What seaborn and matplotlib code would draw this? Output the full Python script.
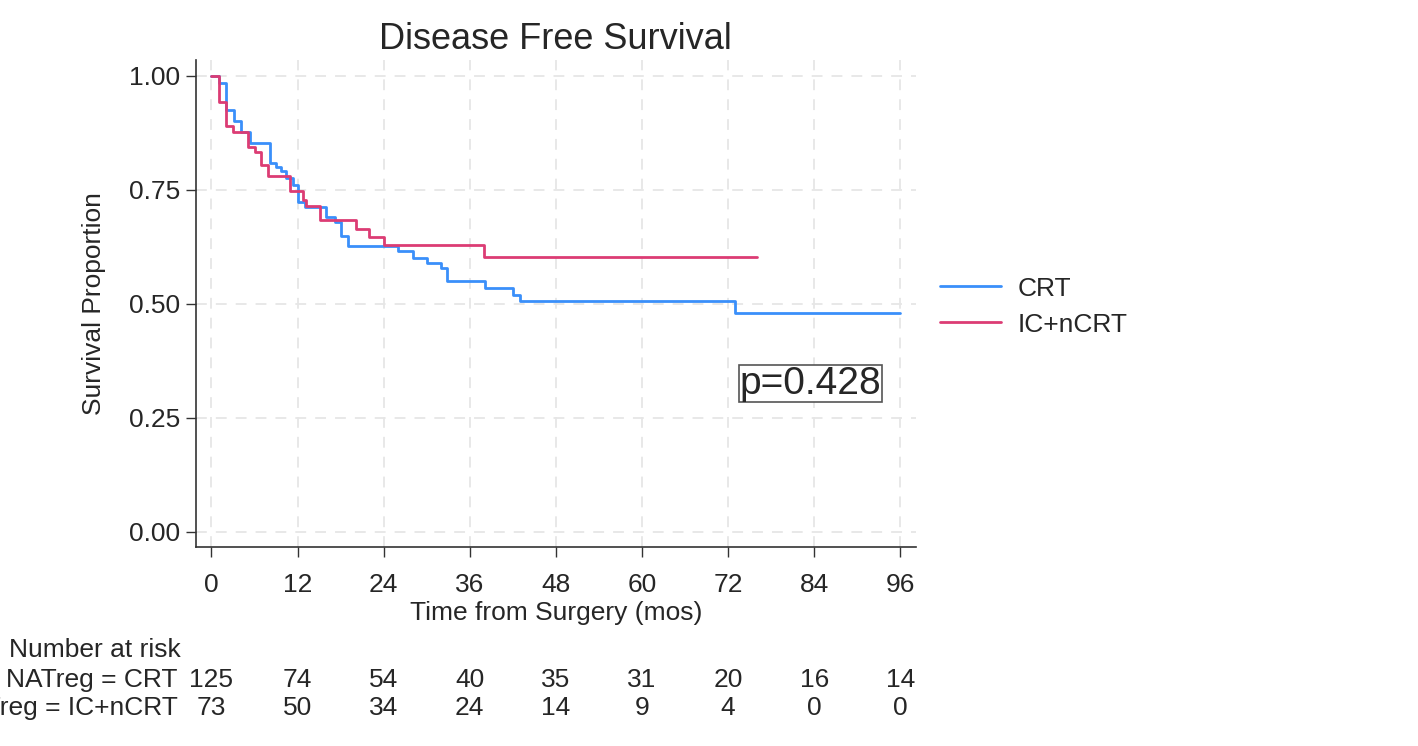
import numpy as np
import pandas as pd
import matplotlib
matplotlib.use("Agg")
import matplotlib.pyplot as plt
import matplotlib.transforms as mtransforms
import seaborn as sns

# Kaplan-Meier step points
crt_time = [0, 1.0, 2.0, 3.2, 4.1, 5.4, 8.1, 9.0, 9.7, 10.4, 11.3, 12.0, 13.0,
            16.0, 17.2, 18.1, 19.0, 26.0, 28.1, 30.0, 32.0, 32.8, 38.1, 42.0,
            43.0, 73.0, 96.0]
crt_surv = [1.0, 0.984, 0.925, 0.90, 0.876, 0.852, 0.808, 0.80, 0.79, 0.776,
            0.761, 0.724, 0.713, 0.69, 0.68, 0.648, 0.626, 0.615, 0.60, 0.589,
            0.578, 0.549, 0.534, 0.52, 0.505, 0.48, 0.48]

ic_time = [0, 1.0, 2.0, 3.0, 5.1, 6.0, 6.9, 7.9, 10.9, 12.7, 13.2, 15.1, 20.1,
           22.0, 24.1, 38.0, 76.0]
ic_surv = [1.0, 0.942, 0.889, 0.876, 0.843, 0.832, 0.805, 0.779, 0.746, 0.728,
           0.715, 0.683, 0.664, 0.646, 0.628, 0.602, 0.602]

groups = ["CRT", "IC+nCRT"]
risk_times = [0, 12, 24, 36, 48, 60, 72, 84, 96]
risk_crt = [125, 74, 54, 40, 35, 31, 20, 16, 14]
risk_ic = [73, 50, 34, 24, 14, 9, 4, 0, 0]
risk_labels = ["NATreg = CRT", "NATreg = IC+nCRT"]
p_text = "p=0.428"

colors = {"CRT": "#3a8ffa", "IC+nCRT": "#dc3c74"}

df = pd.concat([
    pd.DataFrame({"time": crt_time, "surv": crt_surv, "group": "CRT"}),
    pd.DataFrame({"time": ic_time, "surv": ic_surv, "group": "IC+nCRT"}),
])

sns.set_style("white")
plt.rcParams['font.family'] = ['Liberation Sans', 'DejaVu Sans']

fs = 19

fig = plt.figure(figsize=(14.18, 7.46), dpi=100)
ax = fig.add_axes([0.138, 0.267, 0.508, 0.653])

sns.lineplot(data=df, x="time", y="surv", hue="group", hue_order=groups,
             palette=colors, drawstyle="steps-post", estimator=None,
             linewidth=2.0, ax=ax)

ax.set_xlim(-2.2, 98.2)
ax.set_ylim(-0.033, 1.035)
ax.set_xticks(risk_times)
ax.set_yticks([0, 0.25, 0.5, 0.75, 1.0])
ax.set_yticklabels(["0.00", "0.25", "0.50", "0.75", "1.00"])
ax.tick_params(axis="both", labelsize=fs, direction="out", length=7,
               width=1, color="#333333", bottom=True, left=True, pad=4)
ax.tick_params(axis="x", pad=12)
ax.grid(True, color="#e6e6e6", linestyle=(0, (6, 5)), linewidth=1.3)
sns.despine(ax=ax)
for s in ["left", "bottom"]:
    ax.spines[s].set_color("#333333")
    ax.spines[s].set_linewidth(1.2)

ax.set_title("Disease Free Survival", fontsize=26, pad=8)
ax.set_xlabel("Time from Surgery (mos)", fontsize=fs, labelpad=3)
ax.set_ylabel("Survival Proportion", fontsize=fs, labelpad=17)

ax.legend(title=None, frameon=False, fontsize=fs, handlelength=2.3,
          handletextpad=0.65, loc="center left",
          bbox_to_anchor=(0.6463, 0.589),
          bbox_transform=fig.transFigure, labelspacing=0.45)

ax.text(73.6, 0.325, p_text, fontsize=28, va="center", ha="left",
        bbox=dict(boxstyle="square,pad=0.02", facecolor="white",
                  edgecolor="#555555", linewidth=1.2))

# number at risk table (second label runs off the left edge, as in the original)
trans = mtransforms.blended_transform_factory(ax.transData, fig.transFigure)
fig.text(0.006, 0.129, "Number at risk", fontsize=fs, ha="left", va="center")
for row_y, label, counts in [(0.0885, risk_labels[0], risk_crt),
                             (0.051, risk_labels[1], risk_ic)]:
    fig.text(0.1255, row_y, label, fontsize=fs, ha="right", va="center")
    for t, n in zip(risk_times, counts):
        ax.text(t, row_y, str(n), fontsize=fs, ha="center", va="center",
                transform=trans, clip_on=False)

fig.savefig("out.png", dpi=100)
